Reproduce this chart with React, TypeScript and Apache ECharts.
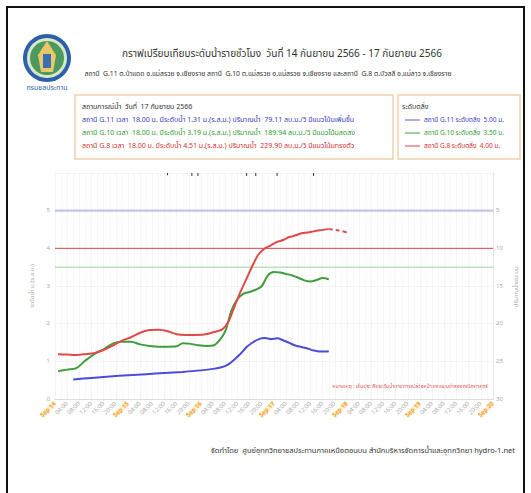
import React, { useEffect, useRef } from "react";
import * as echarts from "echarts";

// ---- Data (hours counted from 14 Sep 2566 00:00) ----
const dayLabels = ["Sep 14", "Sep 15", "Sep 16", "Sep 17", "Sep 18", "Sep 19", "Sep 20"];
const hourLabels = ["04:00", "08:00", "12:00", "16:00", "20:00"];

const g8Hours = [1, 4, 7, 10, 13, 16, 19, 22, 25, 28, 31, 34, 37, 40, 43, 46, 49, 52, 55, 57, 59, 61, 63, 65, 67, 69, 71, 73, 75, 77, 79, 81, 83, 85, 87, 90];
const g8Values = [1.19, 1.18, 1.17, 1.19, 1.22, 1.3, 1.42, 1.55, 1.64, 1.76, 1.83, 1.84, 1.8, 1.72, 1.7, 1.7, 1.71, 1.77, 1.85, 2.05, 2.45, 2.85, 3.2, 3.55, 3.85, 4.0, 4.08, 4.17, 4.22, 4.3, 4.34, 4.4, 4.42, 4.45, 4.48, 4.51];

const g8ForecastHours = [90, 93, 96];
const g8ForecastValues = [4.51, 4.48, 4.42];

const g10Hours = [1, 4, 7, 10, 13, 16, 19, 22, 25, 28, 31, 34, 37, 40, 42, 44, 47, 50, 52, 54, 56, 58, 60, 62, 64, 66, 68, 70, 72, 74, 76, 78, 80, 82, 84, 86, 88, 90];
const g10Values = [0.74, 0.78, 0.82, 1.02, 1.2, 1.32, 1.47, 1.52, 1.52, 1.45, 1.41, 1.39, 1.39, 1.4, 1.48, 1.47, 1.43, 1.41, 1.42, 1.55, 1.8, 2.35, 2.65, 2.8, 2.84, 2.9, 3.0, 3.28, 3.37, 3.36, 3.32, 3.28, 3.22, 3.15, 3.12, 3.16, 3.21, 3.18];

const g11Hours = [6, 12, 18, 24, 30, 36, 42, 48, 52, 55, 57, 59, 61, 63, 65, 67, 69, 71, 73, 75, 77, 79, 81, 83, 85, 87, 89, 90];
const g11Values = [0.52, 0.56, 0.6, 0.63, 0.66, 0.69, 0.72, 0.76, 0.8, 0.85, 0.92, 1.05, 1.2, 1.38, 1.5, 1.59, 1.62, 1.59, 1.61, 1.56, 1.49, 1.42, 1.38, 1.34, 1.29, 1.26, 1.26, 1.27];

const rainHours = [37, 45, 47, 63, 66, 73, 85];
const rainValues = [0.3, 0.4, 0.4, 0.4, 0.4, 0.4, 0.4];

const bankLevels = [5.0, 4.0, 3.5]; // G.11, G.8, G.10

const FONT = 'Tahoma, "Noto Sans Thai", "Leelawadee UI", "DejaVu Sans", sans-serif';

const pair = (hs: number[], vs: number[]) => hs.map((h, i) => [h, vs[i]]);

export default function App() {
  const ref = useRef<HTMLDivElement>(null);
  useEffect(() => {
    if (!ref.current) return;
    const chart = echarts.init(ref.current, undefined, { renderer: "svg" });

    const bankLine = (level: number, color: string, width: number) => ({
      type: "line",
      data: [[0, level], [144, level]],
      symbol: "none",
      silent: true,
      lineStyle: { color, width },
      z: 1,
    });

    const txt = (x: number, y: number, text: string, fill: string, fontSize: number, align = "left") => ({
      type: "text",
      x,
      y,
      style: { text, fill, fontSize, fontFamily: FONT, textAlign: align, textVerticalAlign: "middle" },
    });

    const option: any = {
      animation: false,
      backgroundColor: "#ffffff",
      textStyle: { fontFamily: FONT },
      grid: { left: 55, top: 173, width: 438, height: 226, containLabel: false },
      xAxis: {
        type: "value",
        min: 0,
        max: 144,
        interval: 4,
        axisLine: { lineStyle: { color: "#dddddd" } },
        axisTick: { show: false },
        splitLine: { show: true, lineStyle: { color: "#ececec", width: 0.6 } },
        minorTick: { show: false, splitNumber: 2 },
        minorSplitLine: { show: true, lineStyle: { color: "#f3f3f3", width: 0.5 } },
        axisLabel: {
          rotate: 45,
          fontSize: 6,
          color: "#aaaaaa",
          margin: 4,
          formatter: (v: number) => {
            if (v % 24 === 0) return "{d|" + dayLabels[v / 24] + "}";
            return hourLabels[(v % 24) / 4 - 1];
          },
          rich: { d: { color: "#f0a030", fontSize: 6, fontWeight: "bold", backgroundColor: "#fdf1d8" } },
        },
      },
      yAxis: [
        {
          type: "value",
          min: 0,
          max: 6,
          interval: 1,
          name: "ระดับน้ำ ม.(ร.ส.ม.)",
          nameLocation: "middle",
          nameGap: 13,
          nameTextStyle: { fontSize: 6, color: "#aaaaaa" },
          axisLine: { show: false },
          axisTick: { show: false },
          axisLabel: { fontSize: 6, color: "#aaaaaa", margin: 5, formatter: (v: number) => (v === 6 ? "" : String(v)) },
          splitLine: { lineStyle: { color: "#ececec", width: 0.6 } },
        },
        {
          type: "value",
          min: 0,
          max: 30,
          interval: 5,
          inverse: true,
          name: "ปริมาณน้ำฝน มม.",
          nameLocation: "middle",
          nameGap: 12,
          nameTextStyle: { fontSize: 6, color: "#aaaaaa" },
          axisLine: { show: true, lineStyle: { color: "#e6e6e6" } },
          axisTick: { show: false },
          axisLabel: { fontSize: 6, color: "#aaaaaa", margin: 3, formatter: (v: number) => (v === 0 ? "" : String(v)) },
          splitLine: { show: false },
        },
      ],
      series: [
        bankLine(bankLevels[0], "#c4c4ea", 2.2),
        bankLine(bankLevels[1], "#d84444", 1),
        bankLine(bankLevels[2], "#9fd09f", 1),
        {
          type: "bar",
          yAxisIndex: 1,
          data: pair(rainHours, rainValues),
          barWidth: 1,
          itemStyle: { color: "#333333" },
          silent: true,
        },
        {
          type: "line",
          name: "G.11",
          data: pair(g11Hours, g11Values),
          symbol: "none",
          smooth: 0.3,
          lineStyle: { color: "#4c4cd8", width: 2 },
          z: 3,
        },
        {
          type: "line",
          name: "G.10",
          data: pair(g10Hours, g10Values),
          symbol: "none",
          smooth: 0.3,
          lineStyle: { color: "#3f9c3f", width: 2 },
          z: 3,
        },
        {
          type: "line",
          name: "G.8",
          data: pair(g8Hours, g8Values),
          symbol: "none",
          smooth: 0.3,
          lineStyle: { color: "#e24a4a", width: 2 },
          z: 4,
        },
        {
          type: "line",
          name: "G.8 forecast",
          data: pair(g8ForecastHours, g8ForecastValues),
          symbol: "none",
          smooth: 0.3,
          lineStyle: { color: "#e24a4a", width: 2, type: [4, 3] },
          z: 4,
        },
      ],
      graphic: [
        {
          type: "rect",
          shape: { x: 7, y: 7, width: 517, height: 500 },
          style: { fill: "none", stroke: "#111111", lineWidth: 2 },
          silent: true,
        },
        // logo
        { type: "circle", shape: { cx: 47, cy: 58, r: 24 }, style: { fill: "#2f5fa8" } },
        { type: "circle", shape: { cx: 47, cy: 58, r: 20 }, style: { fill: "#d9e8c8" } },
        { type: "circle", shape: { cx: 47, cy: 58, r: 17 }, style: { fill: "#4e9a5e" } },
        { type: "polygon", shape: { points: [[47, 41], [56, 55], [53, 72], [41, 72], [38, 55]] }, style: { fill: "#e8c86a" } },
        { type: "rect", shape: { x: 43, y: 54, width: 8, height: 14 }, style: { fill: "#3a6fb0" } },
        txt(47, 88, "กรมชลประทาน", "#2f5fa8", 7, "center"),
        // titles
        txt(282, 54, "กราฟเปรียบเทียบระดับน้ำรายชั่วโมง  วันที่ 14 กันยายน 2566 - 17 กันยายน 2566", "#333333", 10, "center"),
        txt(268, 74, "สถานี  G.11 ต.ป่าแดด อ.แม่สรวย จ.เชียงราย สถานี  G.10 ต.แม่สรวย อ.แม่สรวย จ.เชียงราย และสถานี  G.8 ต.บัวสลี อ.แม่ลาว จ.เชียงราย", "#333333", 6.8, "center"),
        // boxes
        { type: "rect", shape: { x: 75, y: 95, width: 318, height: 64 }, style: { fill: "none", stroke: "#f0d2aa", lineWidth: 1.5 } },
        { type: "rect", shape: { x: 398, y: 95, width: 122, height: 64 }, style: { fill: "none", stroke: "#f0d2aa", lineWidth: 1.5 } },
        txt(82, 107, "สถานการณ์น้ำ  วันที่  17 กันยายน 2566", "#333333", 7),
        txt(82, 120, "สถานี G.11 เวลา  18.00 น. มีระดับน้ำ 1.31 ม.(ร.ส.ม.) ปริมาณน้ำ  79.11 ลบ.ม./วิ มีแนวโน้มเพิ่มขึ้น", "#3a3ab8", 7),
        txt(82, 133, "สถานี G.10 เวลา  18.00 น. มีระดับน้ำ 3.19 ม.(ร.ส.ม.) ปริมาณน้ำ  189.94 ลบ.ม./วิ มีแนวโน้มลดลง", "#2f9a2f", 7),
        txt(82, 146, "สถานี G.8 เวลา  18.00 น. มีระดับน้ำ 4.51 ม.(ร.ส.ม.) ปริมาณน้ำ  229.90 ลบ.ม./วิ มีแนวโน้มทรงตัว", "#d03030", 7),
        txt(402, 107, "ระดับตลิ่ง", "#333333", 7),
        { type: "line", shape: { x1: 405, y1: 120, x2: 420, y2: 120 }, style: { stroke: "#5a5ad0", lineWidth: 1 } },
        { type: "line", shape: { x1: 405, y1: 133, x2: 420, y2: 133 }, style: { stroke: "#3f9c3f", lineWidth: 1 } },
        { type: "line", shape: { x1: 405, y1: 146, x2: 420, y2: 146 }, style: { stroke: "#d84444", lineWidth: 1 } },
        txt(424, 120, "สถานี G.11 ระดับตลิ่ง  5.00 ม.", "#3a3ab8", 6.5),
        txt(424, 133, "สถานี G.10 ระดับตลิ่ง  3.50 ม.", "#2f9a2f", 6.5),
        txt(424, 146, "สถานี G.8 ระดับตลิ่ง  4.00 ม.", "#d03030", 6.5),
        // note & footer
        txt(488, 386, "หมายเหตุ : เส้นประ คือระดับน้ำคาดการณ์ล่วงหน้าจากแบบจำลองคณิตศาสตร์", "#e04a4a", 5.2, "right"),
        txt(515, 450, "จัดทำโดย  ศูนย์อุทกวิทยาชลประทานภาคเหนือตอนบน สำนักบริหารจัดการน้ำและอุทกวิทยา hydro-1.net", "#333333", 7.5, "right"),
      ],
    };

    chart.setOption(option);
    return () => chart.dispose();
  }, []);

  return (
    <div
      ref={ref}
      style={{ position: "absolute", left: 0, top: 0, width: 531, height: 493, background: "#ffffff" }}
    />
  );
}
